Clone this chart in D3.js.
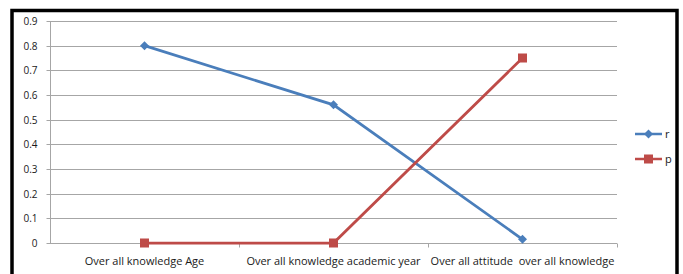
<!DOCTYPE html>
<html>
<head>
<meta charset="utf-8">
<script src="https://cdn.jsdelivr.net/npm/d3@7"></script>
<style>
  body { margin: 0; background: #fff; }
  svg { display: block; }
</style>
</head>
<body>
<svg></svg>
<script>
// Chart data
let categories = ["Over all knowledge Age", "Over all knowledge academic year", "Over all attitude  over all knowledge"];
let seriesNames = ["r", "p"];
let rValues = [0.8, 0.56, 0.015];
let pValues = [0, 0, 0.75];
let yTicks = [0, 0.1, 0.2, 0.3, 0.4, 0.5, 0.6, 0.7, 0.8, 0.9];

let colors = { r: "#4a7ebb", p: "#be4b48" };

let W = 683, H = 274;
let margin = { top: 21, right: 66, bottom: 31, left: 50 },
    width = 617 - margin.left,
    height = 243 - margin.top;

let svg = d3.select("svg").attr("width", W).attr("height", H);

// outer frame
svg.append("path")
    .attr("d", "M12,276 V10.5 H677 V276")
    .attr("fill", "none")
    .attr("stroke", "#000")
    .attr("stroke-width", 3.5);

let g = svg.append("g").attr("transform", "translate(" + margin.left + "," + margin.top + ")");

let x = d3.scaleBand().domain(categories).range([0, width]);
let y = d3.scaleLinear().domain([0, 0.9]).range([height, 0]);

// gridlines
g.append("g")
    .selectAll("line")
    .data(yTicks.slice(1))
    .enter().append("line")
    .attr("x1", 0)
    .attr("x2", width)
    .attr("y1", d => Math.round(y(d)) + 0.5)
    .attr("y2", d => Math.round(y(d)) + 0.5)
    .attr("stroke", "#a6a6a6")
    .attr("stroke-width", 1);

// y axis
let yAxis = g.append("g")
    .attr("transform", "translate(0.5,0)")
    .call(d3.axisLeft(y).tickValues(yTicks).tickSize(4).tickFormat(d => d === 0 ? "0" : d3.format(".1f")(d)));
yAxis.select(".domain").attr("stroke", "#a6a6a6").attr("d", "M0," + y(0.9) + "V" + (height + 0.5));
yAxis.selectAll(".tick line").attr("stroke", "#a6a6a6").attr("x1", 0).attr("x2", -4);
yAxis.selectAll(".tick").attr("transform", d => "translate(0," + (Math.round(y(d)) + 0.5) + ")");
yAxis.selectAll("text")
    .attr("x", -13)
    .attr("fill", "#1a1a1a")
    .style("font-family", "'Open Sans', sans-serif")
    .style("font-size", "10px");

// x axis
let xAxis = g.append("g")
    .attr("transform", "translate(0," + (Math.round(y(0)) + 0.5) + ")");
xAxis.append("line")
    .attr("x1", 0).attr("x2", width)
    .attr("stroke", "#a6a6a6");
xAxis.selectAll(".xt")
    .data(categories)
    .enter().append("line")
    .attr("x1", d => Math.round(x(d) + x.bandwidth())+0.5)
    .attr("x2", d => Math.round(x(d) + x.bandwidth())+0.5)
    .attr("y1", 0).attr("y2", 4)
    .attr("stroke", "#a6a6a6");
xAxis.selectAll("text")
    .data(categories)
    .enter().append("text")
    .attr("x", d => x(d) + x.bandwidth() / 2)
    .attr("y", 21)
    .attr("text-anchor", "middle")
    .attr("fill", "#1a1a1a")
    .style("font-family", "'Open Sans', sans-serif")
    .style("font-size", "11px")
    .style("white-space", "pre")
    .text(d => d);

let series = [
    { key: "r", values: rValues },
    { key: "p", values: pValues }
];

let line = d3.line()
    .x((d, i) => x(categories[i]) + x.bandwidth() / 2)
    .y(d => y(d));

series.forEach(s => {
    g.append("path")
        .datum(s.values)
        .attr("fill", "none")
        .attr("stroke", colors[s.key])
        .attr("stroke-width", 2.75)
        .attr("d", line);
});

// markers
function marker(sel, key) {
    if (key === "r") {
        sel.append("path")
            .attr("d", "M0,-4.5 L4.5,0 L0,4.5 L-4.5,0 Z")
            .attr("fill", colors.r);
    } else {
        sel.append("rect")
            .attr("x", -4.5).attr("y", -4.5)
            .attr("width", 9).attr("height", 9)
            .attr("fill", colors.p);
    }
}

series.forEach(s => {
    s.values.forEach((v, i) => {
        let m = g.append("g")
            .attr("transform", "translate(" + (x(categories[i]) + x.bandwidth() / 2) + "," + y(v) + ")");
        marker(m, s.key);
    });
});

// legend
let legend = svg.append("g")
    .selectAll("g")
    .data(seriesNames)
    .enter().append("g")
    .attr("transform", (d, i) => "translate(635," + (134 + i * 25) + ")");
legend.append("line")
    .attr("x1", 0).attr("x2", 27)
    .attr("stroke", d => colors[d])
    .attr("stroke-width", 2.5);
legend.each(function (d) {
    let m = d3.select(this).append("g").attr("transform", "translate(13.5,0)");
    marker(m, d);
});
legend.append("text")
    .attr("x", 30)
    .attr("dy", "0.35em")
    .attr("fill", "#1a1a1a")
    .style("font-family", "'Open Sans', sans-serif")
    .style("font-size", "11px")
    .text(d => d);
</script>
</body>
</html>
